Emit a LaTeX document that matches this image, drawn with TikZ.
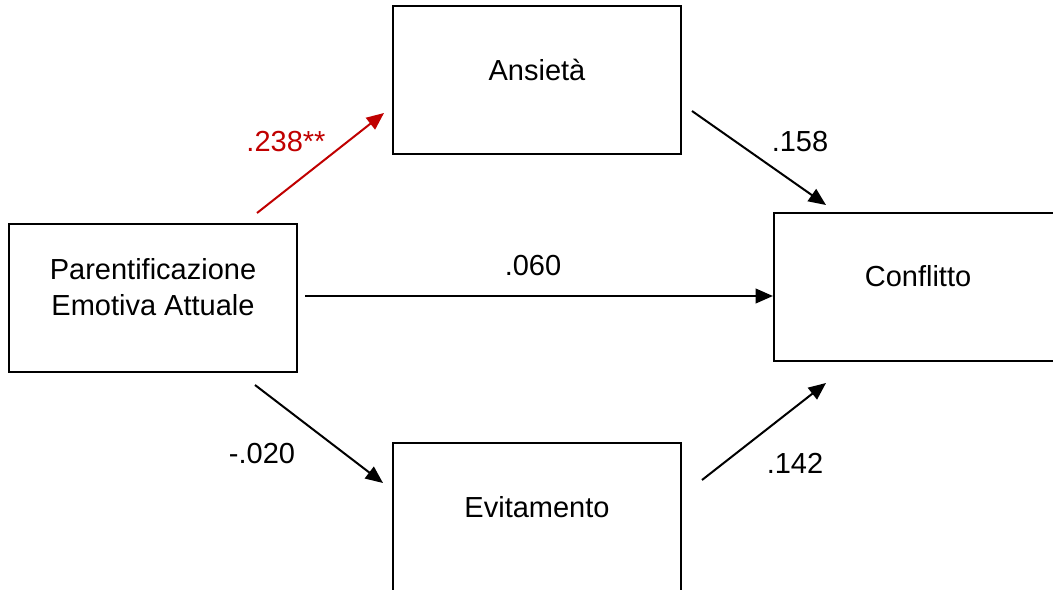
\documentclass[tikz,border=0pt]{standalone}
\usepackage{fontspec}
\setmainfont{Liberation Sans}
\usetikzlibrary{arrows.meta}
\definecolor{rosso}{HTML}{C00000}

\begin{document}
\begin{tikzpicture}[x=0.75pt, y=-0.75pt,
        every node/.style={font=\fontsize{21.75}{27}\selectfont},
        scatola/.style={draw, line width=1.6pt, minimum width=216pt, minimum height=111pt, inner sep=0pt},
        freccia/.style={-{Triangle[length=13pt, width=11pt]}, line width=1.5pt}]
        \useasboundingbox (0,0) rectangle (1053,589);
        \clip (0,0) rectangle (1053,589);
        % Riquadri
        \node[scatola] (par) at (153,298) {};
        \node[scatola] (ans) at (537,80) {};
        \node[scatola] (con) at (918,287) {};
        \node[scatola] (evi) at (537,517) {};
        % Testi
        \node[align=center, yshift=8pt] (partxt) at (par) {Parentificazione\\Emotiva Attuale};
        \node[yshift=7.5pt] (anstxt) at (ans) {Ansietà};
        \node[yshift=8pt] (contxt) at (con) {Conflitto};
        \node[yshift=7.5pt] (evitxt) at (evi) {Evitamento};
        % Estremi delle frecce
        \coordinate (p1) at (257,213);
        \coordinate (a1) at (384,113);
        \coordinate (a2) at (692,111);
        \coordinate (c1) at (826,205);
        \coordinate (p2) at (255,385);
        \coordinate (e1) at (383,483);
        \coordinate (e2) at (702,480);
        \coordinate (c2) at (826,383);
        \coordinate (p3) at (305,296);
        % Frecce
        \draw[freccia, rosso] (p1) -- (a1);
        \draw[freccia] (a2) -- (c1);
        \draw[freccia] (p2) -- (e1);
        \draw[freccia] (e2) -- (c2);
        \draw[freccia] (p3) -- (con.west |- p3);
        % Coefficienti
        \node[text=rosso] (k1) at (286,142) {.238**};
        \node (k2) at (800,142) {.158};
        \node (k3) at (533,266) {.060};
        \node (k4) at (262,454) {-.020};
        \node (k5) at (795,463) {.142};
    \end{tikzpicture}
\end{document}
